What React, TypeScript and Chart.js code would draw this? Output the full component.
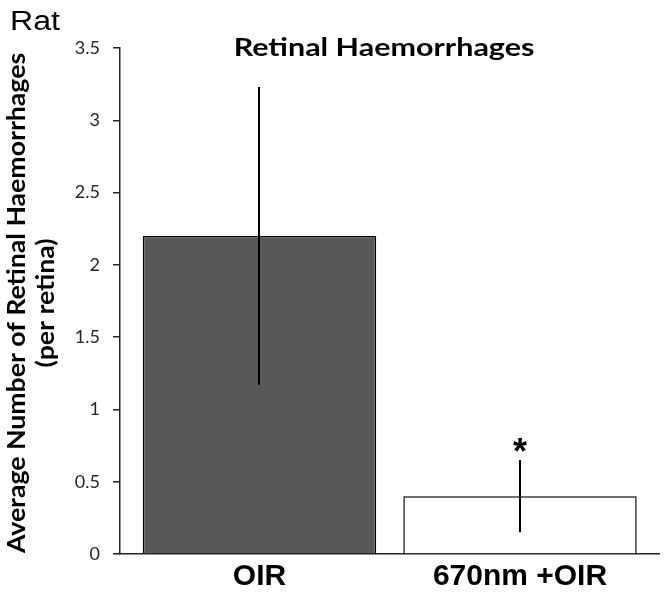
import React, { useEffect, useRef } from 'react';
import { Chart, registerables } from 'chart.js';

Chart.register(...registerables);

const categories = ['OIR', '670nm +OIR'];
const means = [2.2, 0.4];
const errors = [1.03, 0.25];
const significance = ['', '*'];
const barColors = ['#595959', '#ffffff'];
const yTicks = [0, 0.5, 1, 1.5, 2, 2.5, 3, 3.5];
const chartTitle = 'Retinal Haemorrhages';
const panelLabel = 'Rat';
const yTitle = ['Average Number of Retinal Haemorrhages', '(per retina)'];

function stretchedText(ctx: any, text: string, x: number, y: number, sx: number, rot = 0) {
  ctx.save();
  ctx.translate(x, y);
  if (rot) ctx.rotate(rot);
  ctx.scale(sx, 1);
  ctx.fillText(text, 0, 0);
  ctx.restore();
}

const overlay = {
  id: 'overlay',
  afterDatasetsDraw(chart: any) {
    const { ctx, scales, chartArea } = chart;
    const x = scales.x;
    const y = scales.y;
    ctx.save();
    ctx.strokeStyle = '#000';
    ctx.lineWidth = 2;
    means.forEach((m, i) => {
      const px = Math.round(x.getPixelForValue(i));
      ctx.beginPath();
      ctx.moveTo(px, y.getPixelForValue(m + errors[i]));
      ctx.lineTo(px, y.getPixelForValue(m - errors[i]));
      ctx.stroke();
      if (significance[i]) {
        ctx.font = 'bold 36px "Liberation Sans"';
        ctx.textAlign = 'center';
        ctx.textBaseline = 'alphabetic';
        ctx.fillStyle = '#000';
        ctx.fillText(significance[i], px, y.getPixelForValue(m + errors[i]) + 4);
      }
    });
    ctx.fillStyle = '#000';
    ctx.textBaseline = 'alphabetic';
    // chart title
    ctx.font = 'bold 24px Lato';
    ctx.textAlign = 'center';
    stretchedText(ctx, chartTitle, 384, 56, 1.27);
    // y axis title (two lines, rotated)
    const midY = (chartArea.top + chartArea.bottom) / 2 + 2;
    stretchedText(ctx, yTitle[0], 25, midY, 1.11, -Math.PI / 2);
    stretchedText(ctx, yTitle[1], 54, midY, 1.11, -Math.PI / 2);
    // panel label
    ctx.font = '27px "Liberation Sans"';
    ctx.textAlign = 'left';
    stretchedText(ctx, panelLabel, 10, 30, 1.19);
    ctx.restore();
  },
};

export default function App() {
  const ref = useRef<HTMLCanvasElement>(null);
  useEffect(() => {
    if (!ref.current) return;
    const chart = new Chart(ref.current, {
      type: 'bar',
      data: {
        datasets: [
          {
            data: means.map((m, i) => ({ x: i, y: m })),
            backgroundColor: barColors,
            borderColor: '#000',
            borderWidth: 1.5,
            barPercentage: 0.896,
            categoryPercentage: 1,
          },
        ],
      },
      options: {
        responsive: false,
        animation: false,
        devicePixelRatio: 1,
        layout: { padding: { top: 48, right: 7, left: 0, bottom: 0 } },
        plugins: { legend: { display: false }, tooltip: { enabled: false }, title: { display: false } },
        scales: {
          x: {
            type: 'linear',
            offset: false,
            min: -0.5355,
            max: 1.5336,
            afterBuildTicks: (s: any) => {
              s.ticks = categories.map((_, i) => ({ value: i }));
            },
            afterFit: (s: any) => {
              s.height = 41;
            },
            grid: { display: false, drawTicks: false },
            border: { display: true, color: '#222', width: 1.5 },
            ticks: {
              autoSkip: false,
              maxRotation: 0,
              padding: 5,
              color: '#000',
              font: { family: '"Liberation Sans"', size: 30, weight: 'bold' },
              callback: (v: any) => categories[v] ?? '',
            },
          },
          y: {
            min: 0,
            max: 3.5,
            afterBuildTicks: (s: any) => {
              s.ticks = yTicks.map((v) => ({ value: v }));
            },
            afterFit: (s: any) => {
              s.width = 120;
            },
            grid: { drawOnChartArea: false, drawTicks: true, tickLength: 7, color: '#222', lineWidth: 1.5 },
            border: { display: true, color: '#222', width: 1.5 },
            ticks: {
              padding: 13,
              color: '#262626',
              font: { family: 'Lato', size: 18 },
              callback: (v: any) => String(v),
            },
            title: { display: false },
          },
        },
      },
      plugins: [overlay],
    } as any);
    return () => chart.destroy();
  }, []);
  return (
    <div style={{ position: 'absolute', left: 0, top: 0, width: 666, height: 595 }}>
      <canvas ref={ref} width={666} height={595} />
    </div>
  );
}
